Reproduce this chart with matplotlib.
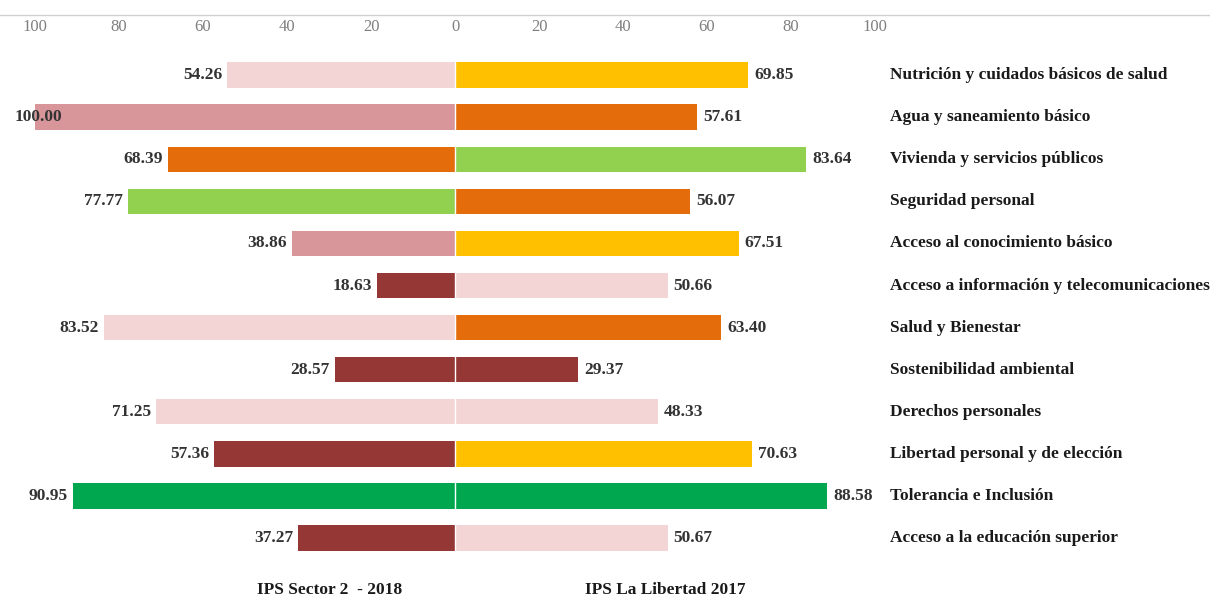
import matplotlib.pyplot as plt

categorias = [
    "Nutrición y cuidados básicos de salud",
    "Agua y saneamiento básico",
    "Vivienda y servicios públicos",
    "Seguridad personal",
    "Acceso al conocimiento básico",
    "Acceso a información y telecomunicaciones",
    "Salud y Bienestar",
    "Sostenibilidad ambiental",
    "Derechos personales",
    "Libertad personal y de elección",
    "Tolerancia e Inclusión",
    "Acceso a la educación superior",
]
sector2_2018 = [54.26, 100.00, 68.39, 77.77, 38.86, 18.63, 83.52, 28.57, 71.25, 57.36, 90.95, 37.27]
libertad_2017 = [69.85, 57.61, 83.64, 56.07, 67.51, 50.66, 63.40, 29.37, 48.33, 70.63, 88.58, 50.67]
ticks = [-100, -80, -60, -40, -20, 0, 20, 40, 60, 80, 100]
tick_labels = ["100", "80", "60", "40", "20", "0", "20", "40", "60", "80", "100"]

# colores por nivel
ROSA_CLARO = "#f2d5d4"
ROSA = "#d9969a"
NARANJA = "#e46c0a"
VERDE_CLARO = "#92d050"
AMARILLO = "#ffc000"
ROJO_OSCURO = "#953735"
VERDE = "#00a74f"
colores_izq = [ROSA_CLARO, ROSA, NARANJA, VERDE_CLARO, ROSA, ROJO_OSCURO,
               ROSA_CLARO, ROJO_OSCURO, ROSA_CLARO, ROJO_OSCURO, VERDE, ROJO_OSCURO]
colores_der = [AMARILLO, NARANJA, VERDE_CLARO, NARANJA, AMARILLO, ROSA_CLARO,
               NARANJA, ROJO_OSCURO, ROSA_CLARO, AMARILLO, VERDE, ROSA_CLARO]

plt.rcParams['font.family'] = ['Liberation Serif', 'DejaVu Serif']

W, H = 1210, 611
cx, ppu = 455, 4.2        # centro en px, px por unidad
y0, dy = 75, 42.1         # primera fila en px, separacion

fig = plt.figure(figsize=(W / 100, H / 100), dpi=100)
ax = fig.add_axes([0, 0, 1, 1])
ax.set_xlim(-cx / ppu, (W - cx) / ppu)
ax.set_ylim((H - y0) / dy, -y0 / dy)
ax.axis("off")

filas = list(range(len(categorias)))
ax.barh(filas, [-v for v in sector2_2018], height=0.6, color=colores_izq)
ax.barh(filas, libertad_2017, height=0.6, color=colores_der)
ax.axvline(0, ymin=0.05, ymax=0.9, color="white", lw=1)

for i in filas:
    v = sector2_2018[i]
    if v > 95:
        ax.text(-(cx - 15) / ppu, i, f"{v:.2f}", ha="left", va="center",
                fontsize=12.5, fontweight="bold", color="#333333")
    else:
        ax.text(-v - 1.2, i, f"{v:.2f}", ha="right", va="center",
                fontsize=12.5, fontweight="bold", color="#333333")
    ax.text(libertad_2017[i] + 1.4, i, f"{libertad_2017[i]:.2f}", ha="left", va="center",
            fontsize=12.5, fontweight="bold", color="#333333")
    ax.text((890 - cx) / ppu, i, categorias[i], ha="left", va="center",
            fontsize=12.5, fontweight="bold", color="#1a1a1a")

for t, lab in zip(ticks, tick_labels):
    ax.text(t, (27 - y0) / dy, lab, ha="center", va="center", fontsize=12, color="#7f7f7f")

ax.text((330 - cx) / ppu, (590 - y0) / dy, "IPS Sector 2  - 2018", ha="center", va="center",
        fontsize=12.5, fontweight="bold", color="#1a1a1a")
ax.text((665 - cx) / ppu, (590 - y0) / dy, "IPS La Libertad 2017", ha="center", va="center",
        fontsize=12.5, fontweight="bold", color="#1a1a1a")

ax.plot([-cx / ppu, (W - cx) / ppu], [(15 - y0) / dy] * 2, color="#d0d0d0", lw=1)

plt.savefig("out.png", dpi=100)
